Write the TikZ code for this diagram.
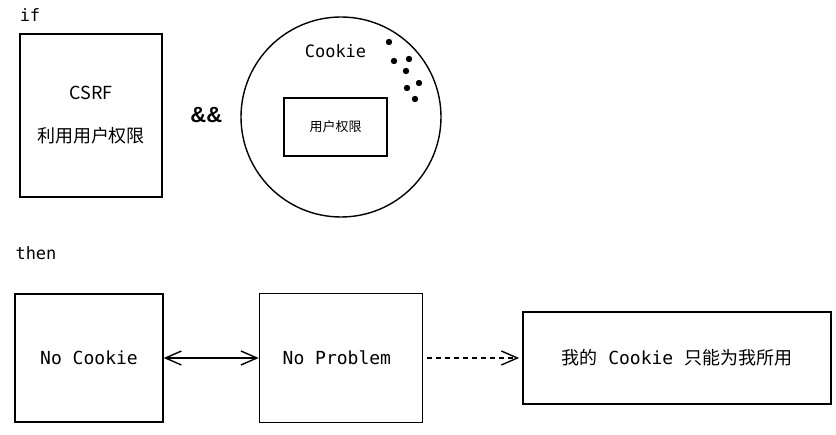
\documentclass[tikz,border=0pt]{standalone}
\usepackage{fontspec}
\setmainfont{Noto Sans CJK SC}
\setmonofont{DejaVu Sans Mono}
\newfontfamily\ampfont{Liberation Sans}
\usetikzlibrary{arrows.meta, positioning}

\begin{document}
\begin{tikzpicture}[x=1pt, y=-1pt, node distance=95pt, line width=1.4pt, >={Straight Barb[length=16pt,width=14pt]}]
    % Styles
    \tikzstyle{block} = [rectangle, draw, inner sep=0pt, align=center, font=\fontsize{18}{21}\selectfont]
    \tikzstyle{code} = [inner sep=0pt, font=\ttfamily\fontsize{17}{20}\selectfont]
    \tikzstyle{arrow} = [->]
    \useasboundingbox (0,0) rectangle (836,435);

    % Nodes
    \node[code] (if) at (30,15) {if};
    \node[block, minimum width=142pt, minimum height=163pt] (csrf) at (91,115.5) {CSRF\\[22pt]利用用户权限};
    \node[right=27pt of csrf, inner sep=0pt, font=\ampfont\bfseries\fontsize{22}{26}\selectfont] (and) {\&\&};
    \node[circle, draw, minimum size=200pt, inner sep=0pt] (cookiejar) at (341,117) {};
    \node[block, minimum width=103pt, minimum height=58pt, font=\fontsize{13}{16}\selectfont] (perm) at (335.5,127) {用户权限};
    \node[code, above=39pt of perm] (cookie) {Cookie};

    \node[code] (then) at (36,253) {then};
    \node[block, minimum width=148pt, minimum height=128pt] (nocookie) at (89,358) {\ttfamily No Cookie};
    \node[block, minimum width=163pt, minimum height=129pt, right=of nocookie] (noproblem) {\ttfamily No Problem\hspace*{8pt}};
    \node[block, minimum width=308pt, minimum height=92pt, right=99pt of noproblem] (mine) {我的\texttt{ Cookie }只能为我所用};

    % Dots
    \foreach \p in {(389,42), (394,61), (409,59), (406,71), (419,83), (407,88), (415,99)}
        \fill \p circle (3.2pt);

    % Paths
    \draw [arrow, <->] (nocookie) -- (noproblem);
    \draw [arrow, dash pattern=on 5pt off 4pt, shorten <=4pt, shorten >=3pt] (noproblem) -- (mine);
\end{tikzpicture}
\end{document}
